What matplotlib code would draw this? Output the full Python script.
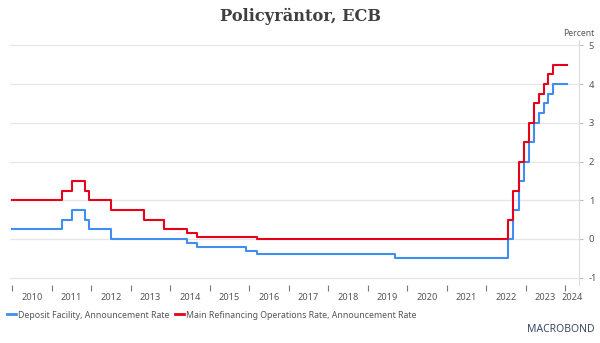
import datetime as dt
import matplotlib
matplotlib.use("Agg")
import matplotlib.pyplot as plt
import matplotlib.dates as mdates
from matplotlib.lines import Line2D

plt.rcParams['font.family'] = ['Noto Sans', 'DejaVu Sans']

# ECB policy rates, announcement dates
depo_dates = ["2010-01-01", "2011-04-07", "2011-07-07", "2011-11-03", "2011-12-08",
              "2012-07-05", "2014-06-05", "2014-09-04", "2015-12-03", "2016-03-10",
              "2019-09-12", "2022-07-21", "2022-09-08", "2022-10-27", "2022-12-15",
              "2023-02-02", "2023-03-16", "2023-05-04", "2023-06-15", "2023-07-27",
              "2023-09-14", "2024-01-15"]
depo_rates = [0.25, 0.50, 0.75, 0.50, 0.25,
              0.00, -0.10, -0.20, -0.30, -0.40,
              -0.50, 0.00, 0.75, 1.50, 2.00,
              2.50, 3.00, 3.25, 3.50, 3.75,
              4.00, 4.00]

mro_dates = ["2010-01-01", "2011-04-07", "2011-07-07", "2011-11-03", "2011-12-08",
             "2012-07-05", "2013-05-02", "2013-11-07", "2014-06-05", "2014-09-04",
             "2016-03-10", "2022-07-21", "2022-09-08", "2022-10-27", "2022-12-15",
             "2023-02-02", "2023-03-16", "2023-05-04", "2023-06-15", "2023-07-27",
             "2023-09-14", "2024-01-15"]
mro_rates = [1.00, 1.25, 1.50, 1.25, 1.00,
             0.75, 0.50, 0.25, 0.15, 0.05,
             0.00, 0.50, 1.25, 2.00, 2.50,
             3.00, 3.50, 3.75, 4.00, 4.25,
             4.50, 4.50]

years = list(range(2010, 2025))
y_ticks = [-1, 0, 1, 2, 3, 4, 5]

blue = "#3f8ef2"
red = "#e8001b"
txt = "#555555"

to_d = lambda s: dt.datetime.strptime(s, "%Y-%m-%d")

fig = plt.figure(figsize=(6.0, 3.43), dpi=100)
ax = fig.add_axes([10/600, 58/343, 569/600, 245/343])

ax.step([to_d(d) for d in depo_dates], depo_rates, where="post", color=blue, lw=1.5)
ax.step([to_d(d) for d in mro_dates], mro_rates, where="post", color=red, lw=1.5)

ax.set_xlim(dt.datetime(2009, 12, 10), dt.datetime(2024, 5, 8))
ax.set_ylim(-1.19, 5.14)

# year boundary ticks, labels centred between them
ax.xaxis.set_major_locator(mdates.YearLocator())
ax.xaxis.set_major_formatter(plt.NullFormatter())
ax.set_xticks([dt.datetime(y, 7, 2) for y in years[:-1]] + [dt.datetime(2024, 3, 5)], minor=True)
ax.set_xticklabels([str(y) for y in years], minor=True)
ax.tick_params(axis="x", which="major", length=4, width=0.8, color="#777777", direction="out")
ax.tick_params(axis="x", which="minor", length=0, pad=6, labelsize=6.6, labelcolor=txt)

ax.yaxis.tick_right()
ax.set_yticks(y_ticks)
ax.set_yticklabels([str(v) for v in y_ticks])
ax.tick_params(axis="y", length=3, width=0.8, color="#bbbbbb", pad=4, labelsize=6.8, labelcolor=txt)
ax.grid(axis="y", color="#e6e6e6", lw=0.9)
ax.set_axisbelow(True)

for s in ["top", "left", "bottom"]:
    ax.spines[s].set_visible(False)
ax.spines["right"].set_color("#dddddd")
ax.spines["right"].set_linewidth(0.8)

fig.text(0.5, 1 - 16/343, "Policyräntor, ECB", ha="center", va="center",
         fontsize=11.7, fontweight="bold", family="DejaVu Serif", color="#3f3f3f")
fig.text(594/600, 1 - 33/343, "Percent", ha="right", va="center", fontsize=6.2, color=txt)

handles = [Line2D([], [], color=blue, lw=2), Line2D([], [], color=red, lw=2)]
labels = ["Deposit Facility, Announcement Rate",
          "Main Refinancing Operations Rate, Announcement Rate"]
fig.legend(handles, labels, loc="center left", bbox_to_anchor=(5/600, 1 - 315/343),
           ncol=2, frameon=False, fontsize=6.3, handlelength=1.0, handletextpad=0.3,
           columnspacing=0.6, labelcolor=txt, borderaxespad=0, borderpad=0.2)

fig.text(595/600, 1 - 330/343, "MACROBOND", ha="right", va="center", fontsize=7.5,
         color="#3c4a66")

fig.savefig("out.png", dpi=100, facecolor="white")
